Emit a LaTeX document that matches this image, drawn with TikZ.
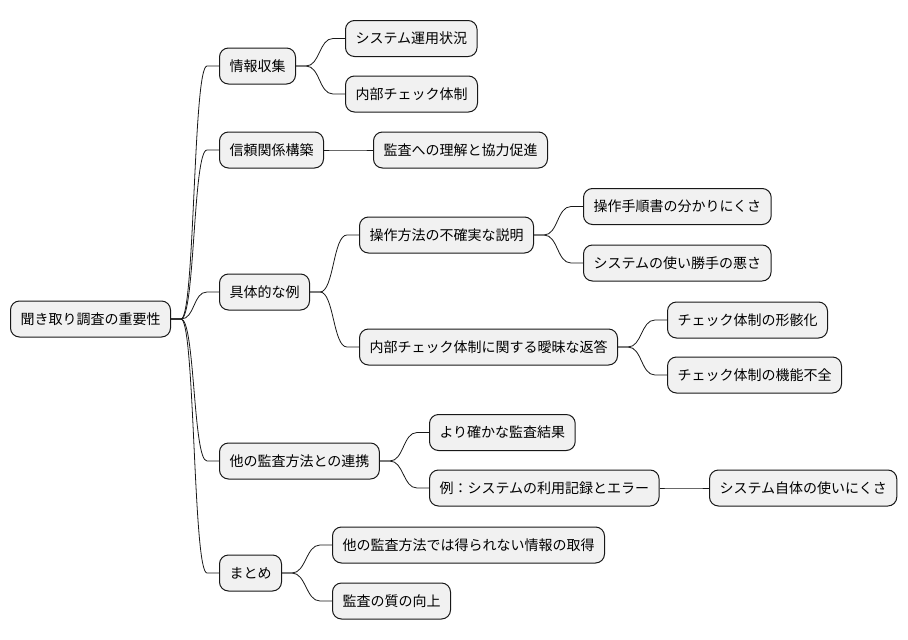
\documentclass[tikz,border=0pt]{standalone}
\usepackage{fontspec}
\newfontfamily\jpfont{Noto Sans CJK JP}
\usetikzlibrary{positioning}
\definecolor{boxfill}{HTML}{F1F1F1}
\definecolor{boxline}{HTML}{181818}

\begin{document}
\begin{tikzpicture}[
  x=1pt, y=-1pt,
  topic/.style={draw=boxline, line width=1pt, rounded corners=9pt, fill=boxfill,
    anchor=west, minimum height=36pt, inner xsep=10pt,
    font=\jpfont\fontsize{14pt}{16pt}\selectfont},
  branch/.style={line width=0.8pt, draw=boxline,
    to path={-- ++(10,0) .. controls +(14,0) and +(-14,0)
      .. ([xshift=-12pt]\tikztotarget.west) -- (\tikztotarget.west)}}
]
\useasboundingbox (0,0) rectangle (908,640);

\node[topic] (root) at (10,319) {聞き取り調査の重要性};

\node[topic] (info) at (219,66) {情報収集};
\node[topic] (sys) at (345,38.5) {システム運用状況};
\node[topic] (chk) at (345,94) {内部チェック体制};

\node[topic] (trust) at (219,150) {信頼関係構築};
\node[topic] (und) at (373,150) {監査への理解と協力促進};

\node[topic] (ex) at (219,292) {具体的な例};
\node[topic] (op) at (359,235) {操作方法の不確実な説明};
\node[topic] (man) at (583,206.5) {操作手順書の分かりにくさ};
\node[topic] (use) at (583,263) {システムの使い勝手の悪さ};
\node[topic] (amb) at (359,347) {内部チェック体制に関する曖昧な返答};
\node[topic] (form) at (667,320) {チェック体制の形骸化};
\node[topic] (func) at (667,375) {チェック体制の機能不全};

\node[topic] (coop) at (219,461) {他の監査方法との連携};
\node[topic] (sure) at (429,432.5) {より確かな監査結果};
\node[topic] (log) at (429,488) {例：システムの利用記録とエラー};
\node[topic] (self) at (709,488) {システム自体の使いにくさ};

\node[topic] (sum) at (219,573) {まとめ};
\node[topic] (other) at (332,545) {他の監査方法では得られない情報の取得};
\node[topic] (qual) at (332,601) {監査の質の向上};

\draw[branch] (root.east) to (info);
\draw[branch] (root.east) to (trust);
\draw[branch] (root.east) to (ex);
\draw[branch] (root.east) to (coop);
\draw[branch] (root.east) to (sum);
\draw[branch] (info.east) to (sys);
\draw[branch] (info.east) to (chk);
\draw[branch] (trust.east) to (und);
\draw[branch] (ex.east) to (op);
\draw[branch] (ex.east) to (amb);
\draw[branch] (op.east) to (man);
\draw[branch] (op.east) to (use);
\draw[branch] (amb.east) to (form);
\draw[branch] (amb.east) to (func);
\draw[branch] (coop.east) to (sure);
\draw[branch] (coop.east) to (log);
\draw[branch] (log.east) to (self);
\draw[branch] (sum.east) to (other);
\draw[branch] (sum.east) to (qual);
\end{tikzpicture}
\end{document}
